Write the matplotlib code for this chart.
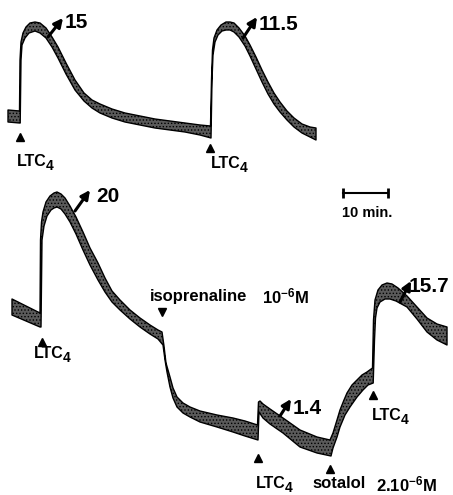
import matplotlib.pyplot as plt
from matplotlib.patches import Polygon

plt.rcParams['font.family'] = ['Liberation Sans', 'DejaVu Sans']
plt.rcParams['mathtext.fontset'] = 'custom'
plt.rcParams['mathtext.rm'] = 'Liberation Sans:bold'
plt.rcParams['mathtext.bf'] = 'Liberation Sans:bold'
plt.rcParams['mathtext.default'] = 'bf'
plt.rcParams['hatch.linewidth'] = 0.6

# Recorder traces, page coordinates (x to the right, y downward).
# Upper trace: two successive LTC4 responses
top_upper_x = [8, 19.5, 20, 21, 23, 26, 30, 35, 40, 46, 52, 58, 66, 75, 84, 92, 100, 112,
               125, 140, 155, 170, 185, 200, 210.5, 211.5, 212.5, 214, 217, 221, 226, 230,
               234, 239, 245, 250, 256, 262, 268, 274, 280, 287, 294, 302, 310, 316]
top_upper_y = [110, 111, 60, 42, 33, 27, 23, 22, 23, 28, 37, 47, 63, 80, 93, 100, 104, 109,
               113, 116, 119, 121, 123, 125, 126, 80, 50, 38, 30, 25, 22, 22,
               23, 28, 36, 45, 57, 70, 82, 93, 102, 111, 118, 124, 127, 128]
top_lower_x = [8, 19.5, 20.2, 21, 22, 25, 29, 35, 40, 46, 52, 58, 66, 75, 84, 92, 100, 112,
               125, 140, 155, 170, 185, 200, 211, 212, 213, 215, 218, 222, 226, 230,
               234, 239, 245, 250, 256, 262, 268, 274, 280, 287, 294, 302, 310, 316]
top_lower_y = [122, 123, 123, 60, 45, 38, 33, 31, 33, 38, 47, 58, 74, 90, 101, 108, 113, 118,
               122, 125, 128, 130, 132, 135, 138, 80, 55, 42, 35, 31, 30, 30,
               32, 37, 46, 56, 69, 82, 94, 104, 112, 120, 127, 133, 137, 140]

# Lower trace: LTC4, isoprenaline, LTC4, sotalol, LTC4
bot_upper_x = [12, 40, 40.5, 41.5, 43, 46, 50, 54, 57, 61, 65, 70, 76, 83, 90, 98, 105, 112,
               120, 130, 140, 150, 158, 162, 164, 166, 170, 173, 177, 183, 190, 200, 217,
               233, 245, 257.5, 258.5, 260, 263, 270, 283, 300, 317, 330, 333, 337, 340,
               344, 347, 352, 357, 362, 367, 372.5, 373.5, 375, 378, 382, 387, 392, 398,
               407, 417, 427, 437, 447]
bot_upper_y = [299, 313, 240, 222, 212, 202, 196, 193, 192, 194, 198, 206, 217, 232, 248, 263,
               278, 291, 300, 310, 318, 325, 330, 332, 346, 363, 377, 388, 397, 403, 407, 411,
               415, 418, 421, 425, 402, 401, 404, 409, 418, 430, 437, 440, 433, 420, 410,
               400, 393, 385, 380, 375, 372, 368, 320, 300, 290, 285, 283, 284, 288,
               296, 307, 318, 324, 327]
bot_lower_x = [12, 40, 41, 42, 44, 47, 51, 54, 57, 61, 65, 70, 76, 83, 90, 98, 105, 112,
               120, 130, 140, 150, 158, 163, 165, 167, 170, 173, 177, 183, 190, 200, 217,
               233, 245, 258, 259, 263, 270, 283, 300, 317, 331, 333, 337, 340,
               345, 350, 357, 363, 368, 373.2, 374.5, 375.5, 377, 380, 385, 390, 396,
               407, 417, 427, 437, 447]
bot_lower_y = [315, 327, 327, 240, 226, 216, 210, 208, 207, 209, 214, 222, 234, 250, 265, 280,
               292, 302, 310, 319, 327, 334, 339, 345, 360, 372, 387, 398, 407, 413, 417, 422,
               427, 432, 436, 440, 412, 418, 424, 433, 447, 453, 456, 448, 437, 427,
               415, 407, 397, 390, 385, 383, 340, 318, 308, 302, 299, 299, 301,
               307, 319, 332, 340, 345]

# Peak contraction values and arrow placement
peak_values = ['15', '11.5', '20', '1.4', '15.7']
arrow_tails = [(48, 37), (243, 38), (75, 211), (280, 416), (400, 302)]
arrow_tips = [(63, 18), (257, 17), (90, 190), (291, 399), (411, 281)]
value_pos = [(65, 23), (259, 25), (96, 197), (293, 408), (409, 287)]

# Drug additions: marker position, label, label position
up_marks = [(20, 137), (210, 148), (42, 342), (258, 458), (330, 469), (373, 395)]
down_marks = [(162, 312)]
labels = ['LTC', 'LTC', 'LTC', 'LTC', 'LTC',
          'sotalol', '2.10$^{-6}$M', 'isoprenaline', '10$^{-6}$M', '10 min.']
label_pos = [(17, 162), (211, 163), (34, 354), (256, 483), (372, 416),
             (312, 484), (376, 484), (150, 296), (262, 296), (342, 213)]
label_sizes = [11.5, 11.5, 11.5, 11.5, 11.5, 12, 12, 12, 12, 10.5]

scale_bar_x = [343, 388]
scale_bar_y = 193

fig = plt.figure(figsize=(4.53, 4.95), dpi=100)
ax = fig.add_axes([0, 0, 1, 1])
ax.set_xlim(0, 453)
ax.set_ylim(495, 0)
ax.axis('off')

for ux, uy, lx, ly in [(top_upper_x, top_upper_y, top_lower_x, top_lower_y),
                       (bot_upper_x, bot_upper_y, bot_lower_x, bot_lower_y)]:
    pts = list(zip(ux, uy)) + list(zip(lx, ly))[::-1]
    ax.add_patch(Polygon(pts, closed=True, facecolor='#5a5a5a', edgecolor='black',
                         hatch='.....', linewidth=1.0, joinstyle='round'))

for tail, tip, val, pos in zip(arrow_tails, arrow_tips, peak_values, value_pos):
    ax.annotate('', xy=tip, xytext=tail,
                arrowprops=dict(arrowstyle='-|>', color='black', lw=2.2,
                                mutation_scale=13, shrinkA=0, shrinkB=0))
    ax.text(pos[0], pos[1], val, fontsize=15, fontweight='bold',
            ha='left', va='center')

for x, y in up_marks:
    ax.plot(x, y, marker='^', color='black', markersize=6, linestyle='none')
for x, y in down_marks:
    ax.plot(x, y, marker='v', color='black', markersize=6, linestyle='none')

for text, (x, y), size in zip(labels, label_pos, label_sizes):
    t = ax.text(x, y, text, fontsize=size, fontweight='bold', ha='left', va='center')
    if text == 'LTC':
        # subscript 4, drawn nearly full size and dropped to the baseline
        ax.annotate('4', xy=(1, 0.2), xycoords=t, xytext=(-0.5, 0),
                    textcoords='offset points', fontsize=size - 1.5,
                    fontweight='bold', ha='left', va='center')

ax.plot(scale_bar_x, [scale_bar_y] * 2, color='black', lw=1.5,
        marker='|', markersize=7, markeredgewidth=2)

fig.savefig('out.png', dpi=100)
